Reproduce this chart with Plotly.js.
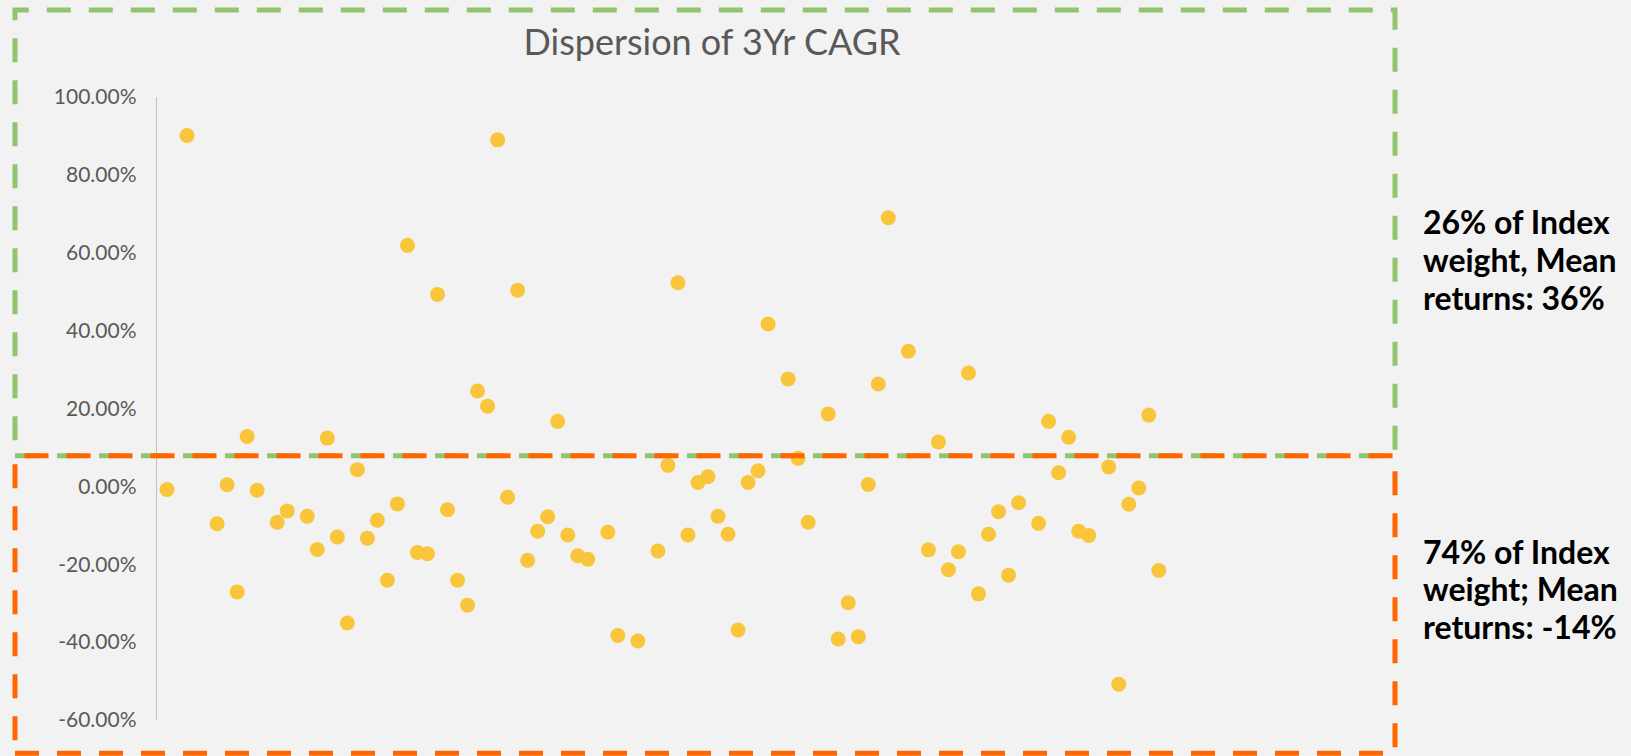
<!DOCTYPE html>
<html>
<head>
<meta charset="utf-8">
<script src="https://cdn.plot.ly/plotly-3.0.1.min.js"></script>
<style>
  html, body { margin: 0; padding: 0; background: #f2f2f2; }
  #chart { width: 1631px; height: 756px; }
</style>
</head>
<body>
<div id="chart"></div>
<script>
// ---- data ----
const stockNo = [1, 3, 6, 7, 8, 9, 10, 12, 13, 15, 16, 17, 18, 19, 20, 21, 22, 23, 24, 25,
  26, 27, 28, 29, 30, 31, 32, 33, 34, 35, 36, 37, 38, 39, 40, 41, 42, 43, 45, 46,
  48, 50, 51, 52, 53, 54, 55, 56, 57, 58, 59, 60, 61, 63, 64, 65, 67, 68, 69, 70,
  71, 72, 73, 75, 77, 78, 79, 80, 81, 82, 83, 84, 85, 86, 88, 89, 90, 91, 92, 93,
  95, 96, 97, 98, 99, 100];
const cagr3yr = [-0.8, 90.1, -9.6, 0.4, -27.1, 12.8, -1.0, -9.2, -6.3, -7.7, -16.2, 12.4, -13.0, -35.1, 4.3, -13.3, -8.7, -24.1, -4.5, 61.9,
  -17.0, -17.3, 49.3, -6.0, -24.1, -30.5, 24.5, 20.6, 89.0, -2.8, 50.4, -19.0, -11.5, -7.8, 16.7, -12.5, -17.8, -18.7, -11.8, -38.3,
  -39.7, -16.6, 5.4, 52.3, -12.5, 1.0, 2.5, -7.7, -12.3, -36.9, 1.0, 4.0, 41.7, 27.6, 7.2, -9.2, 18.6, -39.2, -29.9, -38.6,
  0.5, 26.3, 69.0, 34.7, -16.3, 11.4, -21.4, -16.8, 29.1, -27.6, -12.3, -6.5, -22.8, -4.2, -9.5, 16.7, 3.5, 12.6, -11.5, -12.6,
  5.0, -50.8, -4.6, -0.4, 18.3, -21.6];
const yTickVals = [-60, -40, -20, 0, 20, 40, 60, 80, 100];
const yTickText = ['-60.00%', '-40.00%', '-20.00%', '0.00%', '20.00%', '40.00%', '60.00%', '80.00%', '100.00%'];
const splitLevel = 7.8;   // dividing line between the two groups (%)
const chartTitle = 'Dispersion of 3Yr CAGR';
const upperNoteLines = ['26% of Index', 'weight, Mean', 'returns: 36%'];
const lowerNoteLines = ['74% of Index', 'weight; Mean', 'returns: -14%'];

// ---- layout geometry ----
const W = 1631, H = 756;
const mL = 157, mT = 97, mB = 36;
const xMax = 110;
const plotW = 1102;
const mR = W - mL - plotW;
const plotH = H - mT - mB;
const px2x = px => (px - mL) / plotW;
const px2y = py => (H - mB - py) / plotH;

const green = '#92c46e';
const orange = '#ff6600';
const dash = '24px,18px';

const trace = {
  type: 'scatter',
  mode: 'markers',
  x: stockNo,
  y: cagr3yr,
  marker: { size: 15, color: '#f9c53a', line: { width: 0 } },
  hoverinfo: 'y',
  showlegend: false
};

const noteFont = { family: 'Lato, sans-serif', size: 32, color: '#000000', weight: 'bold' };
const lineGap = 37.5;
function noteAnnotations(lines, firstCenterPx) {
  return lines.map((t, k) => ({
    text: t, xref: 'paper', yref: 'paper',
    x: px2x(1421), y: px2y(firstCenterPx + k * lineGap),
    xanchor: 'left', yanchor: 'middle', align: 'left',
    showarrow: false, font: noteFont
  }));
}

const layout = {
  width: W,
  height: H,
  margin: { l: mL, r: mR, t: mT, b: mB, pad: 0 },
  paper_bgcolor: '#f2f2f2',
  plot_bgcolor: '#f2f2f2',
  font: { family: 'Lato, "Open Sans", sans-serif', color: '#595959' },
  title: {
    text: chartTitle,
    font: { family: 'Lato, sans-serif', size: 36, color: '#595959' },
    xref: 'paper', x: px2x(712), xanchor: 'center',
    yref: 'container', y: 1 - 42 / H, yanchor: 'middle'
  },
  xaxis: {
    range: [0, xMax],
    showgrid: false, zeroline: false, showline: false,
    showticklabels: false, ticks: '', fixedrange: true
  },
  yaxis: {
    range: [-60, 100],
    tickvals: yTickVals,
    ticktext: yTickText,
    showgrid: false, zeroline: false,
    showline: true, linecolor: '#bfbfbf', linewidth: 1.3,
    ticks: '', ticklabelstandoff: 15,
    tickfont: { family: 'Lato, sans-serif', size: 21, color: '#595959' },
    fixedrange: true
  },
  shapes: [
    {
      type: 'rect', xref: 'paper', yref: 'paper', layer: 'above',
      x0: px2x(15), x1: px2x(1395), y0: px2y(455.8), y1: px2y(10),
      line: { color: green, width: 5, dash: dash }
    },
    {
      type: 'rect', xref: 'paper', yref: 'paper', layer: 'above',
      x0: px2x(15), x1: px2x(1395), y0: px2y(753.3), y1: px2y(455.8),
      line: { color: orange, width: 5, dash: dash }
    }
  ],
  annotations: noteAnnotations(upperNoteLines, 222).concat(noteAnnotations(lowerNoteLines, 551))
};

Plotly.newPlot('chart', [trace], layout, { displayModeBar: false, staticPlot: true });
</script>
</body>
</html>
